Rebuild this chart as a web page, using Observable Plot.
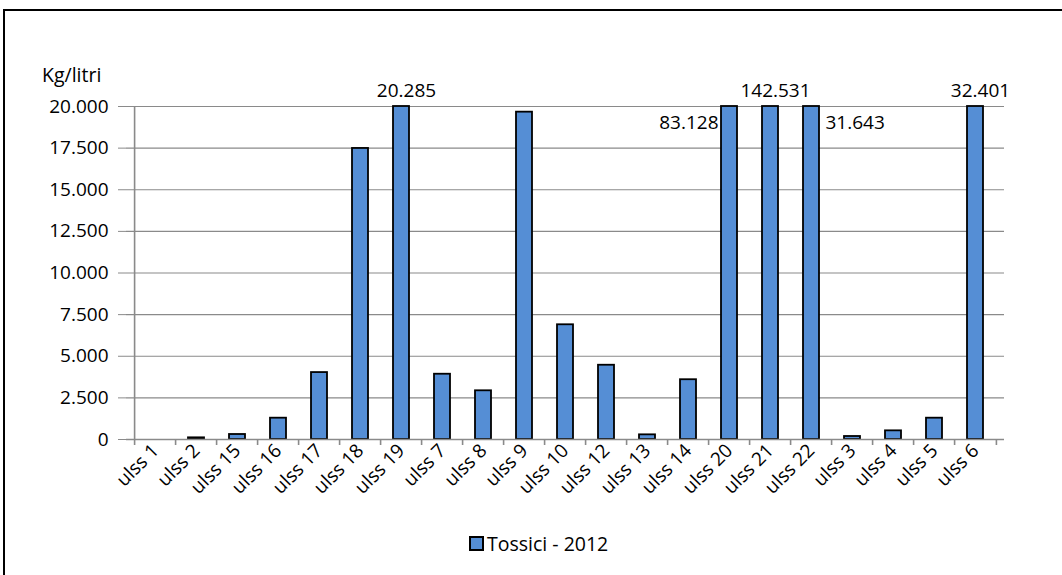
<!DOCTYPE html>
<html>
<head>
<meta charset="utf-8">
<script src="https://cdn.jsdelivr.net/npm/d3@7"></script>
<script src="https://cdn.jsdelivr.net/npm/@observablehq/plot@0.6"></script>
<style>
  html, body { margin: 0; padding: 0; background: #fff; overflow: hidden; }
  #wrap { position: relative; width: 1062px; height: 575px; overflow: hidden; font-family: "Open Sans", sans-serif; }
  #border { position: absolute; left: 3px; top: 9px; width: 1100px; height: 600px; border: 2px solid #000; box-sizing: border-box; }
  #ylabel { position: absolute; left: 42px; top: 61px; font-size: 19.5px; color: #000; }
  #legend { position: absolute; left: 469px; top: 530px; font-size: 19.5px; display: flex; align-items: center; color: #000; }
  #legend .sw { width: 11px; height: 11px; background: #558ED5; border: 2px solid #000; margin-right: 3px; }
  #chart { position: absolute; left: 0; top: 0; }
</style>
</head>
<body>
<div id="wrap">
  <div id="border"></div>
  <div id="chart"></div>
  <div id="ylabel">Kg/litri</div>
  <div id="legend"><div class="sw"></div><span>Tossici - 2012</span></div>
</div>
<script>
const categories = ["ulss 1","ulss 2","ulss 15","ulss 16","ulss 17","ulss 18","ulss 19","ulss 7","ulss 8","ulss 9","ulss 10","ulss 12","ulss 13","ulss 14","ulss 20","ulss 21","ulss 22","ulss 3","ulss 4","ulss 5","ulss 6"];
const values = [0, 100, 300, 1280, 4020, 17480, 20285, 3920, 2925, 19660, 6890, 4460, 280, 3590, 83128, 142531, 31643, 180, 520, 1280, 32401];
const yTicks = [0, 2500, 5000, 7500, 10000, 12500, 15000, 17500, 20000];
const seriesName = "Tossici - 2012";
const yMax = 20000;

const data = categories.map((c, i) => ({cat: c, value: values[i]}));
const it = d3.formatLocale({decimal: ",", thousands: ".", grouping: [3], currency: ["€", ""]});
const fmt = it.format(",d");

const W = 1062, H = 575, ML = 126, MR = 58, MT = 106, MB = 136;
const step = (W - ML - MR) / categories.length;
const tickLen = 6 * yMax / (H - MT - MB);

const above = ["ulss 19", "ulss 21", "ulss 6"];
const leftSide = ["ulss 20"];
const rightSide = ["ulss 22"];
const over = data.filter(d => d.value > yMax);

const chart = Plot.plot({
  width: W, height: H,
  marginLeft: ML, marginRight: MR, marginTop: MT, marginBottom: MB,
  style: {fontFamily: "'Open Sans', sans-serif", fontSize: "19px", color: "#000", background: "transparent", overflow: "visible"},
  x: {domain: categories, paddingInner: 0.6, paddingOuter: 0.3, label: null},
  y: {domain: [0, yMax], label: null},
  marks: [
    Plot.ruleY(yTicks.filter(t => t > 0), {stroke: "#8a8a8a", strokeWidth: 1.2}),
    Plot.barY(data, {x: "cat", y: d => Math.min(d.value, yMax), fill: "#558ED5", stroke: "#000", strokeWidth: 1.8}),
    Plot.ruleY([0], {stroke: "#8a8a8a", strokeWidth: 1.6}),
    Plot.ruleX([categories[0]], {x: d => d, dx: -step / 2, y1: -tickLen, y2: yMax, stroke: "#8a8a8a", strokeWidth: 1.6}),
    Plot.ruleX(categories.slice(1), {x: d => d, dx: -step / 2, y1: -tickLen, y2: 0, stroke: "#8a8a8a", strokeWidth: 1.6}),
    Plot.ruleX([categories[categories.length - 1]], {x: d => d, dx: step / 2, y1: -tickLen, y2: 0, stroke: "#8a8a8a", strokeWidth: 1.6}),
    Plot.axisY({ticks: yTicks, tickFormat: fmt, tickSize: 8, tickPadding: 10, stroke: "#8a8a8a", label: null}),
    Plot.axisX({tickSize: 0, tickPadding: 8, tickRotate: -45, label: null}),
    Plot.text(over.filter(d => above.includes(d.cat)), {x: "cat", y: yMax, text: d => fmt(d.value), dy: -16, dx: 5, lineAnchor: "middle"}),
    Plot.text(over.filter(d => leftSide.includes(d.cat)), {x: "cat", y: yMax, text: d => fmt(d.value), dy: 16, dx: -11, textAnchor: "end", lineAnchor: "middle"}),
    Plot.text(over.filter(d => rightSide.includes(d.cat)), {x: "cat", y: yMax, text: d => fmt(d.value), dy: 16, dx: 14, textAnchor: "start", lineAnchor: "middle"})
  ]
});
document.getElementById("chart").appendChild(chart);
</script>
</body>
</html>
